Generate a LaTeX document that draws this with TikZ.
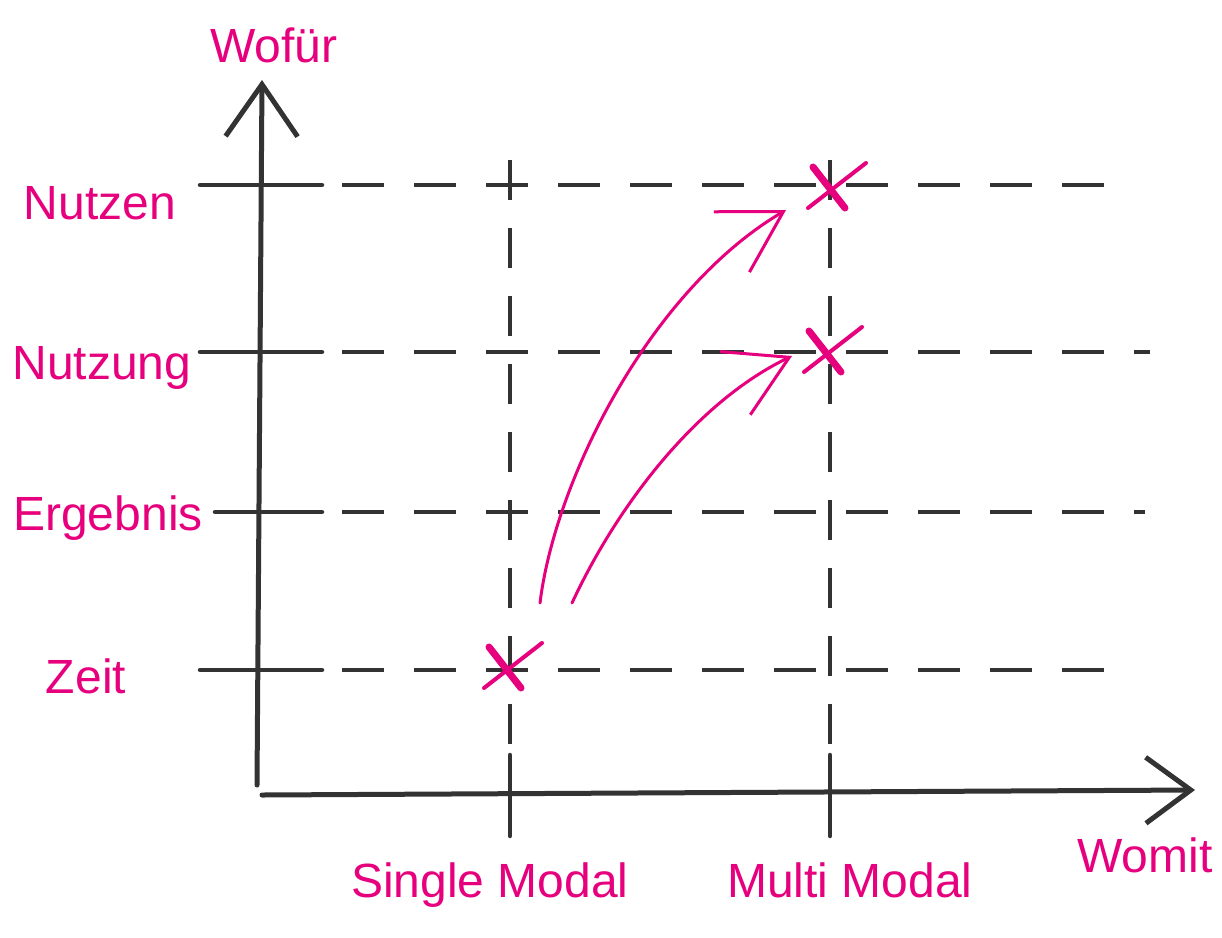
\documentclass[tikz,border=0pt]{standalone}
\usepackage{fontspec}
\setmainfont{Liberation Sans}
\usetikzlibrary{arrows.meta}
\definecolor{pink}{HTML}{E6007E}
\definecolor{ink}{HTML}{333333}
\begin{document}
\begin{tikzpicture}[x=1pt,y=-1pt,
  axis/.style={ink,line width=5pt,line cap=round},
  gridline/.style={ink,line width=3.5pt,dash pattern=on 42pt off 30pt},
  tickmark/.style={ink,line width=4.5pt,line cap=round},
  lbl/.style={pink,font=\fontsize{48}{48}\selectfont,inner sep=0pt},
  crossthick/.style={pink,line width=7pt,line cap=round},
  crossthin/.style={pink,line width=4pt,line cap=round},
  trend/.style={pink,line width=3pt,line cap=round,-{Straight Barb[length=60pt,width=70pt]}}]
\useasboundingbox (0,0) rectangle (1222,937);
% axes
\coordinate (yb) at (257,785);
\coordinate (ytop) at (262,80);
\coordinate (xb) at (262,795);
\coordinate (xend) at (1195,790);
\draw[axis,-{Straight Barb[length=52pt,width=72pt,line width=5pt]}] (yb) -- (ytop);
\draw[axis,-{Straight Barb[length=45pt,width=66pt,line width=5pt]}] (xb) -- (xend);
% row ticks and dashed lines
\foreach \n/\y/\s/\e in {r1/185/200/1110,r2/352/200/1150,r3/512/215/1145,r4/670/200/1115}{
  \coordinate (\n a) at (\s,\y);
  \coordinate (\n b) at (322,\y);
  \coordinate (\n c) at (342,\y);
  \coordinate (\n d) at (\e,\y);
  \draw[tickmark] (\n a) -- (\n b);
  \draw[gridline] (\n c) -- (\n d);
}
% column ticks and dashed lines
\foreach \n/\x in {c1/510,c2/830}{
  \coordinate (\n a) at (\x,160);
  \coordinate (\n b) at (\x,790);
  \coordinate (\n t) at (\x,755);
  \coordinate (\n u) at (\x,836);
  \draw[gridline,dash pattern=on 40pt off 28pt] (\n a) -- (\n b);
  \draw[tickmark] (\n t) -- (\n u);
}
% crosses
\coordinate (k1) at (506,668);
\coordinate (k2) at (830,188);
\coordinate (k3) at (826,352);
\foreach \k in {k1,k2,k3}{
  \draw[crossthick] ([shift={(-17,-21)}]\k) -- ([shift={(15,20)}]\k);
  \draw[crossthin] ([shift={(-22,20)}]\k) -- ([shift={(36,-25)}]\k);
}
% trend arrows
\coordinate (s1) at (540,603);
\coordinate (e1) at (786,210);
\coordinate (s2) at (572,603);
\coordinate (e2) at (792,356);
\draw[trend] (s1) .. controls (555,480) and (650,290) .. (e1);
\draw[trend] (s2) .. controls (620,500) and (700,400) .. (e2);
% labels
\node[lbl] (wofuer) at (274,45) {Wofür};
\node[lbl] (nutzen) at (100,203) {Nutzen};
\node[lbl] (nutzung) at (102,368) {Nutzung};
\node[lbl] (ergebnis) at (108,518) {Ergebnis};
\node[lbl] (zeit) at (86,676) {Zeit};
\node[lbl] (single) at (490,885) {Single Modal};
\node[lbl] (multi) at (850,880) {Multi Modal};
\node[lbl] (womit) at (1145,855) {Womit};
\end{tikzpicture}
\end{document}
